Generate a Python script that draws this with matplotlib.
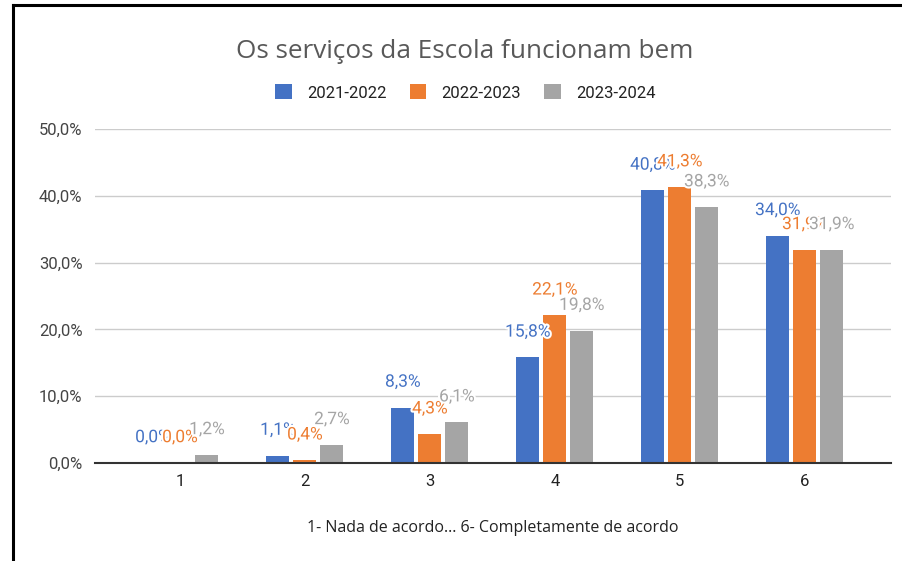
import numpy as np
import matplotlib.pyplot as plt
import matplotlib.patheffects as pe
from matplotlib.lines import Line2D

# data
categories = ['1', '2', '3', '4', '5', '6']
series_names = ['2021-2022', '2022-2023', '2023-2024']
vals_2122 = [0.0, 1.1, 8.3, 15.8, 40.8, 34.0]
vals_2223 = [0.0, 0.4, 4.3, 22.1, 41.3, 31.9]
vals_2324 = [1.2, 2.7, 6.1, 19.8, 38.3, 31.9]
colors = ['#4472C4', '#ED7D31', '#A5A5A5']

series = [vals_2122, vals_2223, vals_2324]

fig = plt.figure(figsize=(9.02, 5.61), dpi=100)
ax = fig.add_axes([0.1053, 0.1747, 0.8825, 0.5953])

x = np.arange(len(categories))
step = 0.216
width = 0.184

for i, (vals, name, col) in enumerate(zip(series, series_names, colors)):
    pos = x + (i - 1) * step
    ax.bar(pos, vals, width=width, color=col, label=name, zorder=3)
    for px, v in zip(pos, vals):
        # labels overlap in the original too; white outline hides the one beneath
        ax.annotate(f'{v:.1f}%'.replace('.', ','), (px, v),
                    xytext=(0, 15), textcoords='offset points',
                    ha='center', va='baseline', fontsize=12.5,
                    family='Roboto', color=col, zorder=5, clip_on=False,
                    path_effects=[pe.withStroke(linewidth=3, foreground='white')])

ax.set_xlim(-0.68, 5.69)
ax.set_ylim(0, 50)
ax.set_yticks([0, 10, 20, 30, 40, 50])
ax.set_yticklabels([f'{t:.1f}%'.replace('.', ',') for t in [0, 10, 20, 30, 40, 50]],
                   family='Roboto', fontsize=12, color='#444444')
ax.set_xticks(x)
ax.set_xticklabels(categories, family='Roboto', fontsize=12, color='#222222')
ax.tick_params(length=0, pad=9)
ax.tick_params(axis='x', pad=8)
ax.grid(axis='y', color='#cccccc', linewidth=1, zorder=0)
ax.set_axisbelow(True)
for s in ['top', 'right', 'left']:
    ax.spines[s].set_visible(False)
ax.spines['bottom'].set_color('#333333')
ax.spines['bottom'].set_linewidth(1.5)
ax.spines['bottom'].set_zorder(4)

ax.set_xlabel('1- Nada de acordo... 6- Completamente de acordo', family='Open Sans',
              fontsize=11.5, color='#222222', labelpad=22)

fig.text(0.5155, 0.909, 'Os serviços da Escola funcionam bem', ha='center', va='center',
         family='Open Sans', fontsize=18.8, color='#595959')

fig.legend(loc='center', bbox_to_anchor=(0.516, 0.835), ncol=3, frameon=False,
           prop={'family': 'Roboto', 'size': 12}, handlelength=1.0, handleheight=1.0,
           columnspacing=1.4, handletextpad=0.9, labelcolor='#222222')

# screenshot frame
fig.add_artist(Line2D([0.0143, 0.0143], [0, 0.991], color='black', linewidth=2.2,
                      transform=fig.transFigure))
fig.add_artist(Line2D([0.0143, 1.0], [0.991, 0.991], color='black', linewidth=2.2,
                      transform=fig.transFigure))

fig.savefig('out.png', dpi=100)
